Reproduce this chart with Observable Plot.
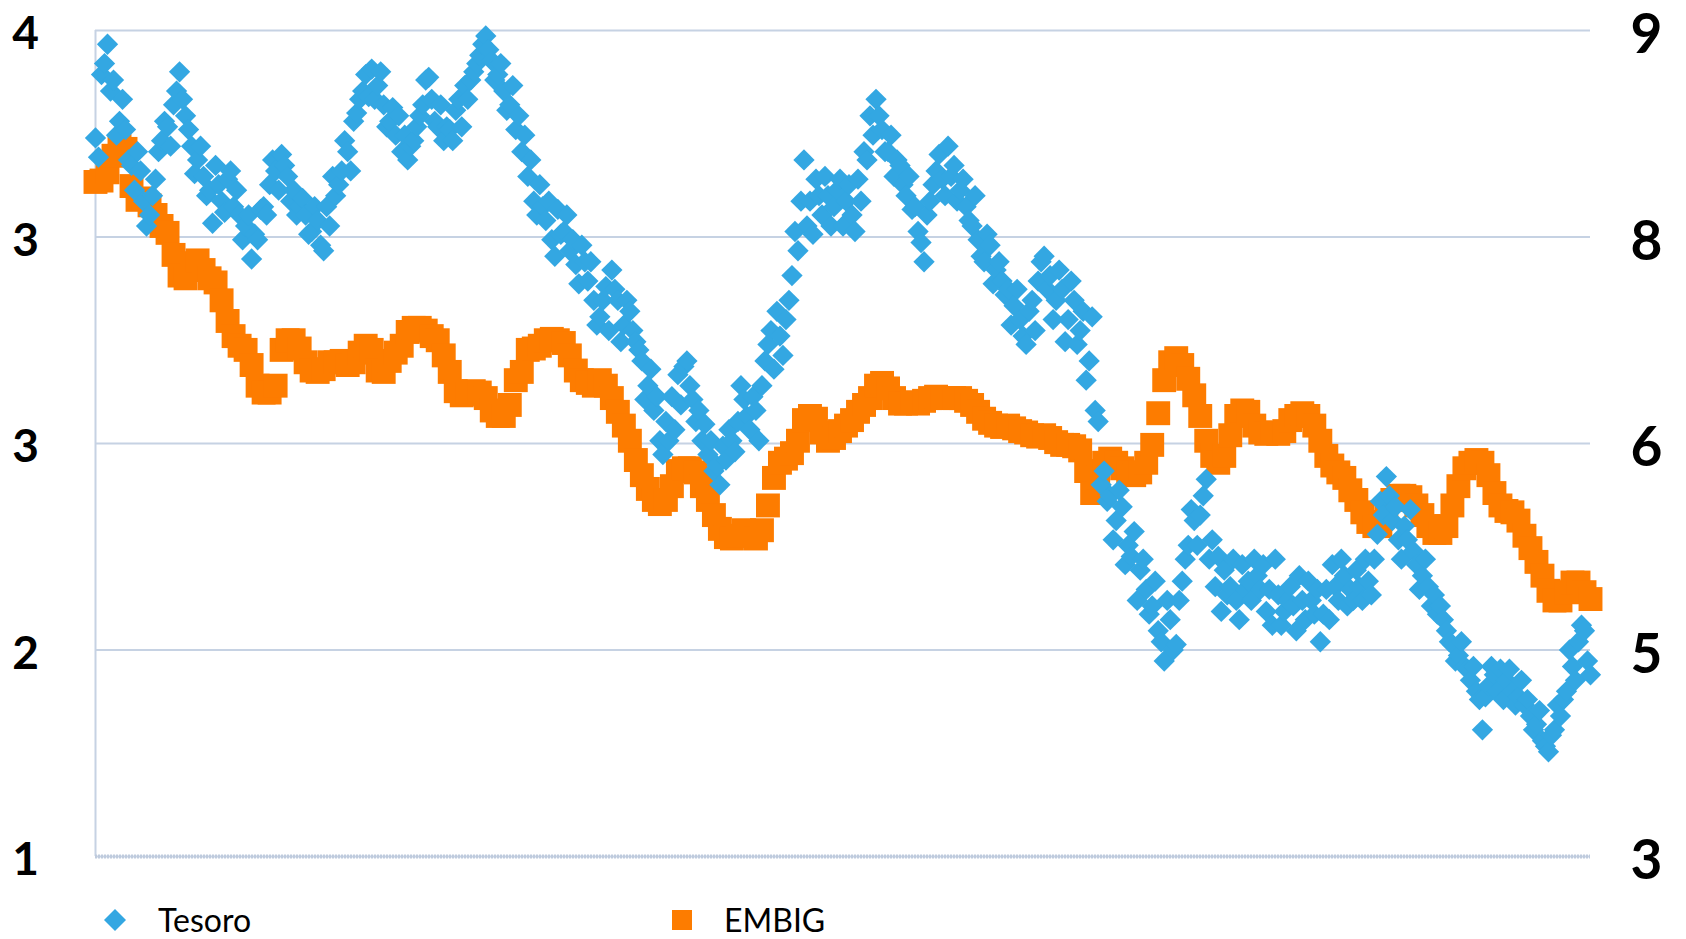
<!DOCTYPE html>
<html>
<head>
<meta charset="utf-8">
<script src="https://cdn.jsdelivr.net/npm/d3@7"></script>
<script src="https://cdn.jsdelivr.net/npm/@observablehq/plot@0.6"></script>
<style>
html, body { margin: 0; padding: 0; background: #fff; }
#chart { width: 1686px; height: 885px; }
#legend { position: relative; width: 1686px; height: 54px; font-family: Lato, "Open Sans", sans-serif; color: #000; }
#legend .mk { position: absolute; }
#legend .lb { position: absolute; font-size: 32px; line-height: 32px; white-space: nowrap; }
</style>
</head>
<body>
<div id="chart"></div>
<div id="legend"></div>
<script>
// Tesoro (left axis), one value every half step of the EMBIG series
const tesoro = [
3.61,3.54,3.84,3.88,3.95,3.78,3.82,3.62,3.67,3.75,
3.64,3.53,3.51,3.42,3.56,3.49,3.38,3.29,3.33,3.40,
3.46,3.56,3.60,3.67,3.65,3.58,3.73,3.78,3.85,3.75,
3.69,3.64,3.58,3.48,3.53,3.58,3.47,3.40,3.42,3.30,
3.51,3.44,3.38,3.34,3.46,3.49,3.36,3.42,3.33,3.24,
3.29,3.33,3.17,3.26,3.24,3.35,3.36,3.33,3.44,3.53,
3.49,3.42,3.55,3.51,3.47,3.38,3.42,3.33,3.36,3.39,
3.33,3.26,3.27,3.36,3.31,3.22,3.20,3.36,3.29,3.47,
3.40,3.44,3.49,3.60,3.56,3.49,3.67,3.70,3.75,3.78,
3.84,3.76,3.86,3.75,3.80,3.85,3.73,3.65,3.67,3.72,
3.62,3.69,3.56,3.62,3.53,3.58,3.60,3.65,3.69,3.73,
3.82,3.83,3.75,3.67,3.65,3.73,3.60,3.65,3.64,3.60,
3.71,3.75,3.65,3.80,3.75,3.82,3.85,3.88,3.91,3.95,
3.98,3.93,3.89,3.82,3.84,3.88,3.78,3.71,3.73,3.80,
3.64,3.69,3.56,3.62,3.47,3.53,3.38,3.33,3.44,3.36,
3.31,3.38,3.24,3.18,3.35,3.26,3.27,3.33,3.20,3.24,
3.15,3.08,3.22,3.16,3.09,3.16,3.02,2.93,2.96,3.02,
3.07,2.91,3.13,3.06,3.02,2.87,2.93,3.02,2.98,2.91,
2.87,2.84,2.80,2.66,2.71,2.77,2.62,2.67,2.51,2.46,
2.58,2.51,2.67,2.55,2.75,2.64,2.78,2.80,2.71,2.66,
2.58,2.62,2.51,2.57,2.46,2.51,2.40,2.42,2.35,2.49,
2.44,2.55,2.51,2.47,2.58,2.71,2.66,2.60,2.55,2.67,
2.62,2.51,2.71,2.80,2.86,2.91,2.77,2.98,2.89,2.82,
2.95,3.02,3.11,3.27,3.20,3.38,3.53,3.29,3.38,3.26,
3.46,3.40,3.33,3.47,3.40,3.29,3.36,3.42,3.46,3.29,
3.38,3.44,3.33,3.27,3.46,3.38,3.56,3.53,3.69,3.62,
3.75,3.69,3.64,3.56,3.56,3.62,3.47,3.53,3.51,3.44,
3.40,3.47,3.35,3.36,3.27,3.23,3.16,3.33,3.38,3.44,
3.49,3.55,3.46,3.40,3.58,3.47,3.51,3.38,3.42,3.46,
3.36,3.31,3.29,3.40,3.24,3.18,3.16,3.26,3.22,3.08,
3.13,3.16,3.09,3.04,3.06,2.93,3.00,3.06,2.95,2.89,
2.86,2.98,3.02,2.91,3.09,3.16,3.18,3.06,3.11,2.95,
3.02,3.13,3.06,2.87,2.95,3.09,3.02,2.86,2.91,2.98,
2.73,2.80,2.96,2.62,2.58,2.35,2.40,2.29,2.31,2.15,
2.22,2.33,2.27,2.06,2.13,2.09,2.18,1.93,2.04,2.08,
1.97,1.88,1.91,2.00,1.82,1.78,1.71,1.93,1.86,1.75,
1.77,1.93,2.00,2.08,2.13,2.26,2.22,2.13,2.24,2.31,
2.37,2.08,2.15,1.98,2.09,1.89,2.04,1.95,1.98,2.08,
1.93,1.86,2.06,1.97,2.00,1.93,2.08,2.02,1.97,2.06,
1.89,1.97,1.84,2.08,1.95,1.84,1.89,1.93,1.98,1.91,
1.82,2.02,1.93,1.86,2.00,1.93,1.88,1.97,1.78,1.88,
1.97,1.86,2.06,1.98,1.93,2.08,2.02,1.91,1.97,1.93,
2.04,1.98,1.93,2.08,2.00,1.95,2.08,2.17,2.29,2.24,
2.38,2.31,2.22,2.27,2.15,2.08,2.20,2.15,2.26,2.11,
2.06,1.97,2.02,2.08,1.98,1.91,1.95,1.88,1.91,1.86,
1.82,1.78,1.77,1.71,1.73,1.78,1.69,1.68,1.64,1.69,
1.60,1.57,1.46,1.58,1.62,1.69,1.66,1.60,1.68,1.57,
1.64,1.68,1.60,1.55,1.58,1.64,1.55,1.57,1.51,1.46,
1.48,1.53,1.42,1.40,1.38,1.44,1.46,1.55,1.51,1.57,
1.60,1.75,1.69,1.64,1.78,1.84,1.82,1.71,1.66
];
// EMBIG (right axis)
const embig = [
7.90,7.91,7.97,8.09,8.16,8.14,7.87,7.77,7.78,7.73,
7.66,7.58,7.53,7.37,7.22,7.20,7.31,7.33,7.26,7.20,
7.17,7.04,6.89,6.78,6.71,6.68,6.57,6.42,6.37,6.37,
6.42,6.68,6.75,6.75,6.69,6.59,6.53,6.52,6.54,6.59,
6.59,6.60,6.57,6.59,6.66,6.71,6.68,6.53,6.52,6.60,
6.66,6.71,6.81,6.84,6.84,6.82,6.78,6.75,6.64,6.52,
6.38,6.35,6.36,6.38,6.37,6.33,6.24,6.20,6.20,6.28,
6.46,6.52,6.68,6.69,6.71,6.75,6.76,6.75,6.73,6.64,
6.53,6.46,6.44,6.42,6.46,6.42,6.33,6.23,6.13,6.02,
5.88,5.77,5.67,5.59,5.56,5.59,5.69,5.80,5.82,5.82,
5.79,5.69,5.59,5.48,5.38,5.32,5.31,5.33,5.37,5.33,
5.31,5.37,5.55,5.75,5.86,5.89,5.93,6.02,6.17,6.20,
6.18,6.08,6.02,6.04,6.09,6.13,6.17,6.23,6.28,6.33,
6.42,6.44,6.40,6.33,6.29,6.29,6.30,6.29,6.31,6.33,
6.34,6.33,6.33,6.33,6.33,6.31,6.28,6.23,6.18,6.15,
6.13,6.12,6.13,6.11,6.09,6.08,6.06,6.05,6.06,6.04,
6.01,5.99,5.99,5.98,5.95,5.80,5.64,5.75,5.86,5.89,
5.86,5.82,5.79,5.77,5.79,5.86,5.99,6.22,6.46,6.59,
6.62,6.57,6.47,6.35,6.20,6.02,5.91,5.86,5.91,6.06,
6.20,6.24,6.23,6.13,6.08,6.07,6.08,6.07,6.09,6.17,
6.20,6.22,6.20,6.13,6.02,5.91,5.84,5.79,5.75,5.66,
5.59,5.50,5.43,5.40,5.40,5.48,5.59,5.62,5.62,5.61,
5.55,5.48,5.40,5.35,5.35,5.40,5.55,5.69,5.82,5.86,
5.88,5.86,5.77,5.64,5.55,5.51,5.50,5.44,5.33,5.24,
5.14,5.04,4.93,4.86,4.86,4.92,4.99,4.99,4.92,4.87
];
const leftTickValues = [1, 1.75, 2.5, 3.25, 4];
const leftTickLabels = ["1", "2", "3", "3", "4"];
const rightTickValues = [3, 4.5, 6, 7.5, 9];
const rightTickLabels = ["3", "5", "6", "8", "9"];
const seriesNames = ["Tesoro", "EMBIG"];
const seriesColors = ["#33a7e2", "#fd7c00"];

// right axis [3,9] shares the left scale [1,4]
const toLeft = v => 1 + (v - 3) / 2;
const rightTickPos = rightTickValues.map(toLeft);

// common time index: Tesoro every step, EMBIG every second step
const tData = tesoro.map((v, i) => ({t: i, v}));
const eData = embig.map((v, i) => ({t: i * 2, v}));
const gridColor = "#c6d2e3";

const chart = Plot.plot({
  width: 1686,
  height: 885,
  marginTop: 30,
  marginBottom: 29,
  marginLeft: 95,
  marginRight: 96,
  x: {domain: [0, tesoro.length - 1], axis: null},
  y: {domain: [1, 4]},
  style: {fontFamily: "Lato, 'Open Sans', sans-serif", color: "#000", background: "#fff", overflow: "visible"},
  marks: [
    Plot.gridY(leftTickValues, {stroke: gridColor, strokeOpacity: 1, strokeWidth: 2}),
    Plot.axisY({
      anchor: "left", ticks: leftTickValues,
      tickFormat: d => leftTickLabels[leftTickValues.indexOf(d)],
      tickSize: 5, tickPadding: 0, stroke: gridColor, strokeWidth: 2,
      textAnchor: "middle", dx: -65, dy: 4, fontSize: 46, fontWeight: "bold", label: null
    }),
    Plot.axisY({
      anchor: "right", ticks: rightTickPos,
      tickFormat: d => rightTickLabels[rightTickPos.indexOf(d)],
      tickSize: 0, tickPadding: 0,
      textAnchor: "middle", dx: 56, dy: 5, fontSize: 55, fontWeight: "bold", label: null
    }),
    Plot.ruleX([0], {y1: 1, y2: 4, stroke: gridColor, strokeWidth: 2}),
    Plot.ruleY([1], {stroke: "#bfcbdd", strokeWidth: 4, strokeDasharray: "2 1"}),
    Plot.dot(eData, {x: "t", y: d => toLeft(d.v), symbol: "square", r: 13.5, fill: seriesColors[1]}),
    Plot.dot(tData, {x: "t", y: "v", symbol: "diamond2", r: 9.6, fill: seriesColors[0]})
  ]
});
document.getElementById("chart").appendChild(chart);

// legend below the chart
const legend = document.getElementById("legend");
const legendPos = [{mx: 115, tx: 158}, {mx: 682, tx: 724}];
seriesNames.forEach((name, k) => {
  const ns = "http://www.w3.org/2000/svg";
  const svg = document.createElementNS(ns, "svg");
  svg.setAttribute("width", 22);
  svg.setAttribute("height", 22);
  svg.setAttribute("class", "mk");
  svg.style.left = (legendPos[k].mx - 11) + "px";
  svg.style.top = "24px";
  const shape = document.createElementNS(ns, k === 0 ? "polygon" : "rect");
  if (k === 0) {
    shape.setAttribute("points", "11,0 22,11 11,22 0,11");
  } else {
    shape.setAttribute("x", 1); shape.setAttribute("y", 1);
    shape.setAttribute("width", 20); shape.setAttribute("height", 20);
  }
  shape.setAttribute("fill", seriesColors[k]);
  svg.appendChild(shape);
  legend.appendChild(svg);
  const lb = document.createElement("div");
  lb.className = "lb";
  lb.textContent = name;
  lb.style.left = legendPos[k].tx + "px";
  lb.style.top = "19px";
  legend.appendChild(lb);
});
</script>
</body>
</html>
